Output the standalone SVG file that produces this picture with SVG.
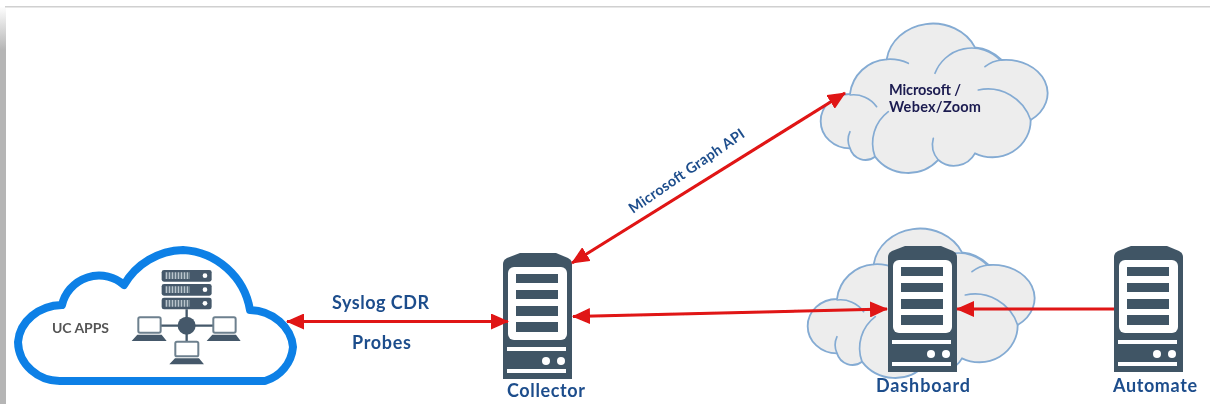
<svg xmlns="http://www.w3.org/2000/svg" xmlns:xlink="http://www.w3.org/1999/xlink" width="1210" height="404" viewBox="0 0 1210 404">
<style>
.srv{fill:#3f5565}.wh{fill:#fff}
.lbl{font-family:"Lato","Liberation Sans",sans-serif;font-weight:700;fill:#1f4e8c}
.cl{fill:#ededed;stroke:#84abd3;stroke-width:5.500;stroke-linejoin:round}
.cli{fill:none;stroke:#84abd3;stroke-width:5;stroke-linecap:round}
.ar{stroke:#e01212;stroke-width:3;fill:none}
.net{fill:#44596a}.ns{fill:none;stroke:#44596a;stroke-width:7}
</style>
<defs>
<linearGradient id="side" x1="0" y1="0" x2="0" y2="1"><stop offset="0" stop-color="#fff"/><stop offset="1" stop-color="#b5b5b5"/></linearGradient>
<filter id="soft" x="-5%" y="-5%" width="110%" height="110%"><feGaussianBlur stdDeviation="0.55"/></filter>
<marker id="head" viewBox="0 0 18 16" refX="17" refY="8" markerUnits="userSpaceOnUse" markerWidth="18" markerHeight="16" orient="auto-start-reverse"><path d="M0 0L18 8L0 16Z" fill="#e01212"/></marker>
<g id="server">
<path class="srv" d="M503 379V264Q503 260 507 258L520 253H556L568 258Q572 260 572 264V379Z"/>
<rect class="wh" x="508" y="267" width="59" height="73" rx="6"/>
<rect class="srv" x="516" y="274" width="42" height="9"/>
<rect class="srv" x="516" y="290" width="42" height="9"/>
<rect class="srv" x="516" y="306" width="42" height="10"/>
<rect class="srv" x="516" y="322" width="42" height="10"/>
<rect class="wh" x="507" y="347" width="59" height="4"/>
<rect class="wh" x="507" y="369" width="59" height="4"/>
<circle class="wh" cx="546" cy="361" r="4"/>
<circle class="wh" cx="561" cy="361" r="4"/>
</g>
<g id="cloud" transform="translate(800 10) scale(.3333)">
<path class="cl" d="M150 252A118 118 0 0 1 260 148A140 125 0 0 1 525 112A125 125 0 0 1 605 150A125 100 0 0 1 692 330A115 110 0 0 1 525 430A72 72 0 0 1 415 450A125 125 0 0 1 225 440A48 48 0 0 1 150 415A88 81.500 0 0 1 150 252Z"/>
<path class="cli" d="M260 148A130 130 0 0 1 325 160M405 190A118 118 0 0 1 600 150M555 170A90 90 0 0 1 605 150M535 240A135 135 0 0 1 692 330M150 255A85 85 0 0 1 230 290M265 305A118 118 0 0 0 225 440M150 365A60 60 0 0 0 150 415M400 385A70 70 0 0 0 415 450"/>
</g>
</defs>
<rect width="1210" height="404" fill="#fff"/>
<rect x="0" y="6" width="6" height="44" fill="url(#side)"/>
<rect x="0" y="50" width="6" height="354" fill="#b5b5b5"/>
<rect x="5" y="6" width="1205" height="1.500" fill="#d0d0d0"/>
<g filter="url(#soft)">
<g id="node-uc-apps">
<path fill="#fff" stroke="#0a80e6" stroke-width="8" stroke-linejoin="round" d="M62 381H265A39 39 0 0 0 293 347A45 40 0 0 0 250 310A72 72 0 0 0 183 250A70 70 0 0 0 124 285A38 38 0 0 0 62 305A45 40 0 0 0 18 342A42 40 0 0 0 62 381Z"/>
<g transform="translate(0 230) scale(.3333)">
<path class="ns" d="M560 238V335M480 287H640"/>
<circle class="net" cx="560" cy="287" r="27"/>
<rect class="net" x="485" y="120" width="150" height="35" rx="7"/>
<rect class="net" x="485" y="162" width="150" height="35" rx="7"/>
<rect class="net" x="485" y="203" width="150" height="35" rx="7"/>
<path d="M497 137H570M497 179H570M497 220H570" stroke="#b9c4cc" stroke-width="20" stroke-dasharray="5 4"/>
<circle class="wh" cx="615" cy="137" r="7"/><circle class="wh" cx="615" cy="179" r="7"/><circle class="wh" cx="615" cy="220" r="7"/>
<rect x="415" y="262" width="67" height="46" rx="5" fill="#fff" stroke="#6d808e" stroke-width="6"/>
<rect x="640" y="262" width="67" height="46" rx="5" fill="#fff" stroke="#6d808e" stroke-width="6"/>
<rect x="526" y="335" width="69" height="44" rx="5" fill="#fff" stroke="#6d808e" stroke-width="6"/>
<path class="net" d="M412 314H485L500 333H395ZM637 314H708L722 333H620ZM525 385H597L612 403H508Z"/>
</g>
<text x="52" y="333" font-family="Lato,'Liberation Sans',sans-serif" font-weight="700" font-size="14" fill="#555" textLength="57">UC APPS</text>
</g>
<g id="node-collector">
<use href="#server"/>
<text class="lbl" x="507" y="397" font-size="18" textLength="78">Collector</text>
</g>
<g id="node-microsoft-cloud">
<use href="#cloud"/>
<text x="889" y="95" font-family="Lato,'Liberation Sans',sans-serif" font-weight="700" font-size="14.500" fill="#1a1a50" textLength="72">Microsoft /</text>
<text x="889" y="112" font-family="Lato,'Liberation Sans',sans-serif" font-weight="700" font-size="14.500" fill="#1a1a50" textLength="92">Webex/Zoom</text>
</g>
<g id="node-dashboard">
<g transform="translate(-13 205)"><use href="#cloud"/></g>
<g transform="translate(385 -7)"><use href="#server"/></g>
<text class="lbl" x="876" y="392" font-size="18" textLength="94">Dashboard</text>
</g>
<g id="node-automate">
<g transform="translate(611 -7)"><use href="#server"/></g>
<text class="lbl" x="1113" y="392" font-size="18" textLength="84">Automate</text>
</g>
<g id="connectors">
<path class="ar" marker-start="url(#head)" marker-end="url(#head)" d="M287 321.500H508"/>
<path class="ar" marker-start="url(#head)" marker-end="url(#head)" d="M573 316.500L887 309"/>
<path class="ar" marker-start="url(#head)" marker-end="url(#head)" d="M572 263L845 93"/>
<path class="ar" marker-end="url(#head)" d="M1114 309H957"/>
</g>
<text class="lbl" x="332" y="309" font-size="18" textLength="97">Syslog CDR</text>
<text class="lbl" x="352" y="349" font-size="18" textLength="59">Probes</text>
<text class="lbl" transform="translate(633 214) rotate(-34.500)" font-size="14.500" textLength="137">Microsoft Graph API</text>
</g>
</svg>
